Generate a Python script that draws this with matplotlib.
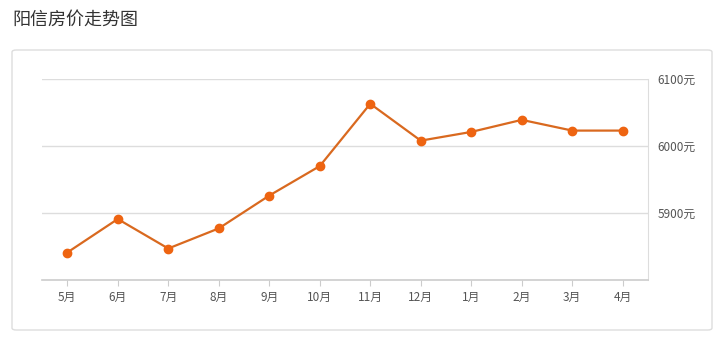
import matplotlib
matplotlib.use("Agg")
import matplotlib.pyplot as plt
from matplotlib.patches import FancyBboxPatch

plt.rcParams['font.family'] = ['Noto Sans CJK SC', 'DejaVu Sans']

# data
months = ["5月", "6月", "7月", "8月", "9月", "10月", "11月", "12月", "1月", "2月", "3月", "4月"]
prices = [5841, 5891, 5847, 5877, 5926, 5970, 6063, 6008, 6021, 6039, 6023, 6023]
y_ticks = [5900, 6000, 6100]
y_labels = ["5900元", "6000元", "6100元"]

fig = plt.figure(figsize=(7.13, 3.47), dpi=100)
fig.patch.set_facecolor("white")

# panel frame, kept behind the axes
frame = FancyBboxPatch((12 / 713, 1 - 330 / 347), 700 / 713, 280 / 347,
                       boxstyle="round,pad=0,rounding_size=0.006",
                       transform=fig.transFigure, facecolor="white",
                       edgecolor="#dddddd", linewidth=1, zorder=-5)
fig.patches.append(frame)

fig.text(12 / 713, 1 - 20 / 347, "阳信房价走势图", fontsize=13, color="#333333",
         va="center", ha="left")

ax = fig.add_axes([42 / 713, 1 - 280 / 347, 606 / 713, 201 / 347])
ax.set_zorder(2)
ax.patch.set_alpha(0)
x = list(range(len(months)))
ax.plot(x, prices, color="#d9691f", linewidth=1.6, marker="o", markersize=6,
        markerfacecolor="#ee6411", markeredgecolor="#ee6411", zorder=3)

ax.set_xlim(-0.5, len(months) - 0.5)
ax.set_ylim(5800, 6100)
ax.set_xticks(x)
ax.set_xticklabels(months)
ax.set_yticks(y_ticks)
ax.set_yticklabels(y_labels)
ax.yaxis.tick_right()
ax.grid(axis="y", color="#dddddd", linewidth=1)
ax.set_axisbelow(True)

for s in ["top", "left"]:
    ax.spines[s].set_visible(False)
ax.spines["right"].set_color("#dddddd")
ax.spines["bottom"].set_color("#cccccc")
ax.spines["bottom"].set_linewidth(1.2)

ax.tick_params(axis="x", colors="#cccccc", labelcolor="#555555", labelsize=8.5,
               length=4, pad=4)
ax.tick_params(axis="y", length=0, labelcolor="#555555", labelsize=8.5, pad=7)

fig.savefig("out.png", dpi=100)
